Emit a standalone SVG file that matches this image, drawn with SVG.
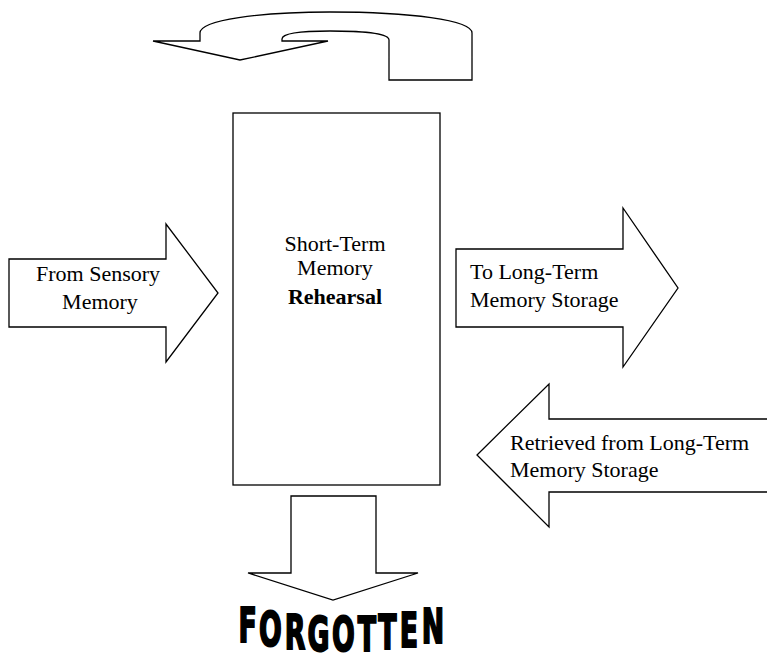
<svg xmlns="http://www.w3.org/2000/svg" width="767" height="658" viewBox="0 0 767 658">
  <style>
    .shape { fill: #ffffff; stroke: #000000; stroke-width: 1.3; stroke-linejoin: miter; }
    .label { font-family: "Liberation Serif", "Times New Roman", serif; font-size: 22px; fill: #000000; }
    .bold { font-weight: bold; }
    .warp { font-family: "DejaVu Sans", "Liberation Sans", sans-serif; font-stretch: condensed; font-weight: bold; font-size: 48px; fill: #000000; stroke: #000000; stroke-width: 2; }
  </style>
  <rect width="767" height="658" fill="#ffffff"/>

  <!-- U-turn rehearsal loop over the store -->
  <g id="rehearsal-loop">
    <path class="shape" d="M153,41 L200,41 L200,33 C200,20 260,12 330,12 C410,12 472,20 472,33 L472,80 L389,80 L389,40 C389,33 360,31 330,31 C300,31 282,33 282,39 L282,41 L328,41 L240,60 Z"/>
  </g>

  <!-- central store -->
  <g id="short-term-memory">
    <rect class="shape" x="233" y="113" width="207" height="372"/>
    <text class="label" text-anchor="middle" x="335" y="251">Short-Term</text>
    <text class="label" text-anchor="middle" x="335" y="275">Memory</text>
    <text class="label bold" text-anchor="middle" x="335" y="304">Rehearsal</text>
  </g>

  <g id="connectors">
    <!-- input from sensory memory -->
    <g id="from-sensory">
      <path class="shape" d="M9,259 L166,259 L166,224 L218,293 L166,362 L166,327 L9,327 Z"/>
      <text class="label" text-anchor="middle" x="98" y="281">From Sensory</text>
      <text class="label" text-anchor="middle" x="100" y="309">Memory</text>
    </g>

    <!-- transfer to long-term storage -->
    <g id="to-long-term">
      <path class="shape" d="M456,249 L623,249 L623,208 L678,288 L623,367 L623,327 L456,327 Z"/>
      <text class="label" x="470" y="279">To Long-Term</text>
      <text class="label" x="470" y="307">Memory Storage</text>
    </g>

    <!-- retrieval back from long-term storage -->
    <g id="retrieved">
      <path class="shape" d="M780,419 L549,419 L549,384 L477,455 L549,527 L549,492 L780,492"/>
      <text class="label" x="510" y="450">Retrieved from Long-Term</text>
      <text class="label" x="510" y="477">Memory Storage</text>
    </g>

    <!-- decay -->
    <g id="forgotten-arrow">
      <path class="shape" d="M291,496 L376,496 L376,573 L418,573 L333,600 L248,573 L291,573 Z"/>
    </g>
  </g>

  <!-- arched heavy lettering, narrowed horizontally, each letter on the curve -->
  <g id="forgotten">
    <text class="warp" text-anchor="middle" transform="scale(0.62,1)"
          x="399.5 436.3 475.8 513.7 554.0 591.9 625.0 659.7 698.4"
          y="642 646 649 650.8 651.4 650.9 649.5 647 643">FORGOTTEN</text>
  </g>
</svg>
